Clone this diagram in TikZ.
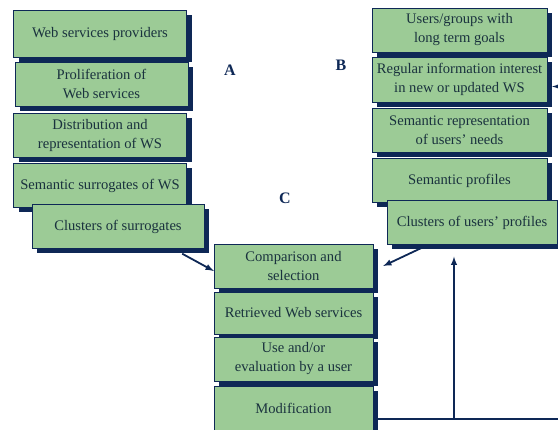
\documentclass[tikz,border=0pt]{standalone}
\usepackage{fontspec}
\setmainfont{Liberation Serif}
\usepackage{tikz}
\usetikzlibrary{shadows}
\usetikzlibrary{calc}
\definecolor{boxgreen}{RGB}{156,203,150}
\definecolor{navy}{RGB}{14,40,86}
\definecolor{ink}{RGB}{26,50,62}

\begin{document}
\begin{tikzpicture}[x=1pt, y=-1pt,
		stage/.style={draw=navy, thin, fill=boxgreen, text=ink, align=center, inner sep=1pt,
			font=\fontsize{14.6}{19}\selectfont, minimum width=173pt, minimum height=44pt,
			drop shadow={shadow xshift=5pt, shadow yshift=-5pt, fill=navy, opacity=1}},
		flow/.style={-latex, navy, line width=1.8pt},
		tag/.style={text=navy, font=\fontsize{16}{16}\selectfont\bfseries}]
			\useasboundingbox (0,0) rectangle (558,430);
			% A: the Web services side
			\node[stage, minimum height=47pt] (p1) at (100,33.5) {Web services providers};
			\node[stage] (p2) at (101.5,84) {Proliferation of\\Web services};
			\node[stage] (p3) at (100,135) {Distribution and\\representation of WS};
			\node[stage] (p4) at (100,185.5) {Semantic surrogates of WS};
			\node[stage, minimum width=172pt] (p5) at (118,226.5) {Clusters of surrogates};
			% B: the users side
			\node[stage, minimum width=175pt] (u1) at (459.5,30) {Users/groups with\\long term goals};
			\node[stage, minimum width=175pt, minimum height=45pt] (u2) at (459.5,79.5) {Regular information interest\\in new or updated WS};
			\node[stage, minimum width=175pt] (u3) at (459.5,130) {Semantic representation\\of users' needs};
			\node[stage, minimum width=175pt] (u4) at (459.5,180.5) {Semantic profiles};
			\node[stage, minimum width=170pt] (u5) at (472,222.5) {Clusters of users' profiles};
			% C: matching
			\node[stage, minimum width=159pt] (c1) at (293.5,266) {Comparison and\\selection};
			\node[stage, minimum width=159pt, minimum height=42pt] (c2) at (293.5,313) {Retrieved Web services};
			\node[stage, minimum width=159pt] (c3) at (293.5,359) {Use and/or\\evaluation by a user};
			\node[stage, minimum width=159pt] (c4) at (293.5,408) {Modification};
			\node[tag] (la) at (230,70) {A};
			\node[tag] (lb) at (341,65) {B};
			\node[tag] (lc) at (285,198) {C};
			\draw[flow] ([xshift=-22pt, yshift=-5pt]p5.south east) -- ([yshift=-5pt]c1.west);
			\draw[flow] ([xshift=-50pt, yshift=-3pt]u5.south) -- ([xshift=10pt]c1.east);
			\coordinate (tap) at (454,419);
			\coordinate (edge) at (562,419);
			\draw[flow] ([xshift=5pt, yshift=-11pt]c4.east) -- (edge) |- ([xshift=5pt, yshift=-7pt]u2.east);
			\draw[flow, shorten >=12pt] (tap) -- (tap |- u5.south);
		\end{tikzpicture}
\end{document}
